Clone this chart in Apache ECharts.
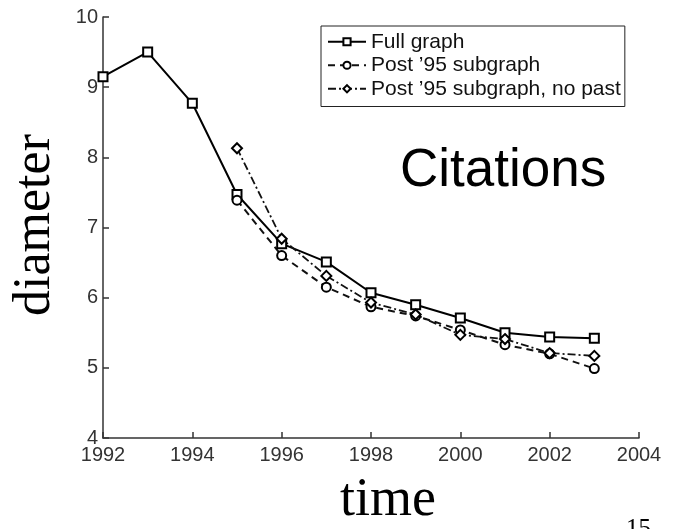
<!DOCTYPE html>
<html><head><meta charset="utf-8">
<script src="https://cdn.jsdelivr.net/npm/echarts@6/dist/echarts.min.js"></script>
<style>html,body{margin:0;padding:0;background:#fff}#c{width:679px;height:529px}</style>
</head><body><div id="c"></div>
<script>
const years = [1992,1993,1994,1995,1996,1997,1998,1999,2000,2001,2002,2003];
const fullGraph = [9.15,9.5,8.77,7.47,6.77,6.51,6.07,5.9,5.71,5.5,5.44,5.42];
const post95Years = [1995,1996,1997,1998,1999,2000,2001,2002,2003];
const post95 = [7.39,6.6,6.15,5.87,5.74,5.54,5.33,5.2,4.99];
const post95NoPast = [8.13,6.84,6.31,5.93,5.76,5.47,5.41,5.21,5.17];
const seriesNames = ['Full graph','Post \u201995 subgraph','Post \u201995 subgraph, no past'];
const xTicks = {min:1992,max:2004,interval:2};
const yTicks = {min:4,max:10,interval:1};

const chart = echarts.init(document.getElementById('c'));
const pair = (xs, ys) => xs.map((x,i)=>[x, ys[i]]);
const markerStyle = {color:'#fff', borderColor:'#000', borderWidth:2};
const sans = 'Liberation Sans, Arial, sans-serif';
const serif = 'Liberation Serif, Times New Roman, serif';
chart.setOption({
  animation:false,
  backgroundColor:'#fff',
  grid:{left:103,right:40,top:17,bottom:91},
  xAxis:{type:'value',min:xTicks.min,max:xTicks.max,interval:xTicks.interval,
    axisLine:{onZero:false,lineStyle:{color:'#333',width:1.5}},
    axisTick:{inside:true,length:6,lineStyle:{color:'#333',width:1.5}},
    axisLabel:{color:'#333',fontFamily:sans,fontSize:20,margin:7,formatter:v=>String(v)},
    splitLine:{show:false}},
  yAxis:{type:'value',min:yTicks.min,max:yTicks.max,interval:yTicks.interval,
    axisLine:{show:true,lineStyle:{color:'#333',width:1.5}},
    axisTick:{show:true,inside:true,length:6,lineStyle:{color:'#333',width:1.5}},
    axisLabel:{color:'#333',fontFamily:sans,fontSize:20,margin:5,formatter:v=>String(v)},
    splitLine:{show:false}},
  legend:{
    data:seriesNames,
    orient:'vertical',left:321,top:26,
    backgroundColor:'#fff',borderColor:'#222',borderWidth:1,borderRadius:0,
    padding:[4,4,6,6],itemGap:0,itemWidth:38,itemHeight:9,
    textStyle:{color:'#111',fontFamily:sans,fontSize:21,lineHeight:23.5}
  },
  graphic:[
    {type:'text',left:400,top:145,style:{text:'Citations',fontFamily:sans,fontSize:53,fill:'#000'}},
    {type:'text',x:35.5,y:225,rotation:Math.PI/2,style:{text:'diameter',fontFamily:serif,fontSize:52,fill:'#000',align:'center',verticalAlign:'middle'}},
    {type:'text',left:340,top:474,style:{text:'time',fontFamily:serif,fontSize:54,fill:'#000'}},
    {type:'text',left:626,top:517,style:{text:'15',fontFamily:serif,fontSize:25,fill:'#000'}}
  ],
  series:[
    {name:seriesNames[0],type:'line',data:pair(years,fullGraph),symbol:'rect',symbolSize:9,
      lineStyle:{color:'#000',width:2,type:'solid'},itemStyle:markerStyle},
    {name:seriesNames[1],type:'line',data:pair(post95Years,post95),symbol:'circle',symbolSize:9,
      lineStyle:{color:'#111',width:2,type:[7,5]},itemStyle:markerStyle},
    {name:seriesNames[2],type:'line',data:pair(post95Years,post95NoPast),symbol:'diamond',symbolSize:10,
      lineStyle:{color:'#111',width:1.8,type:[8,3,2,3]},itemStyle:markerStyle}
  ]
});
</script></body></html>
